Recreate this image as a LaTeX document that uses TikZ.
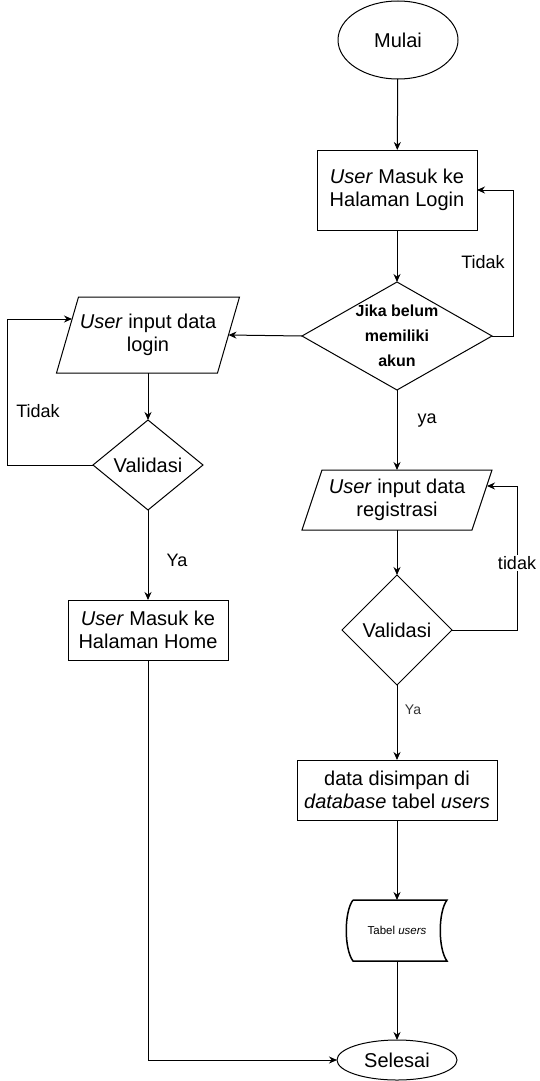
\documentclass[tikz,border=0pt]{standalone}
\usepackage{fontspec}
\setmainfont{Liberation Sans}
\usetikzlibrary{shapes.geometric,arrows.meta,calc}
\begin{document}
\begin{tikzpicture}[x=1pt,y=-1pt,
  line width=1pt,
  >={Stealth[length=8pt,width=7pt]},
  every node/.style={inner sep=0pt, outer sep=0pt},
  main/.style={font=\fontsize{20}{23}\selectfont, align=center},
  term/.style={draw, ellipse, main, minimum width=120pt, minimum height=78pt},
  proc/.style={draw, rectangle, main},
  io/.style={rectangle, main},
  dec/.style={draw, diamond},
  dtext/.style={main},
  lbl/.style={font=\fontsize{18}{20}\selectfont},
  small/.style={font=\fontsize{14}{16}\selectfont, text=black!80},
  store/.style={rectangle, font=\fontsize{11.5}{13}\selectfont}
]
\useasboundingbox (0,0) rectangle (540,1081);

% right column
\node[term] (mulai) at (398,40) {Mulai};
\node[proc, minimum width=160pt, minimum height=80pt] (lp) at (397,190) {\textit{User} Masuk ke\\Halaman Login};
\node[dec, minimum width=190pt, minimum height=108pt] (d1) at (397,336) {};
\node[dtext, font=\fontsize{16}{25}\selectfont\bfseries] (d1t) at (d1) {Jika belum\\memiliki\\akun};

\node[io, minimum width=170pt, minimum height=60pt] (reg) at (397,500) {\textit{User} input data\\registrasi};
\draw ([xshift=10pt]reg.north west) -- ([xshift=10pt]reg.north east) -- ([xshift=-10pt]reg.south east) -- ([xshift=-10pt]reg.south west) -- cycle;
\coordinate (regR) at (487,486);

\node[dec, minimum width=110pt, minimum height=110pt] (v2) at (397,630) {};
\node[dtext] (v2t) at (v2) {Validasi};
\node[proc, minimum width=200pt, minimum height=60pt] (data) at (397,790) {data disimpan di\\\textit{database} tabel \textit{users}};
\node[store, minimum width=100pt, minimum height=61pt] (tab) at (397,930.5) {Tabel \textit{users}};
\draw[line width=1.5pt] (353,900) -- (447,900) .. controls (438,912) and (438,949) .. (447,961) -- (353,961) .. controls (344,949) and (344,912) .. (353,900);
\node[term, minimum height=40pt] (sel) at (397,1060) {Selesai};

% left column
\node[io, minimum width=161pt, minimum height=76pt] (inl) at (148,335) {\textit{User} input data\\login};
\draw ([xshift=11pt]inl.north west) -- ([xshift=11pt]inl.north east) -- ([xshift=-11pt]inl.south east) -- ([xshift=-11pt]inl.south west) -- cycle;
\coordinate (inlL) at (72,319);
\node[dec, minimum width=110pt, minimum height=90pt] (v1) at (148,465) {};
\node[dtext] (v1t) at (v1) {Validasi};
\node[proc, minimum width=160pt, minimum height=60pt] (home) at (148,630) {\textit{User} Masuk ke\\Halaman Home};

% connectors
\draw[->] (mulai) -- (lp);
\draw[->] (lp) -- (d1);
\draw[->] (d1.east) -- ++(21,0) |- (lp.east);
\node[lbl] (l1) at (483,262) {Tidak};
\draw[->] (d1.west) -- (inl.east);
\draw[->] (inl) -- (v1);
\draw[->] (v1.west) -- ++(-86,0) |- (inlL);
\node[lbl] (l2) at (38,411) {Tidak};
\draw[->] (v1) -- (home);
\node[lbl] (l3) at (177,560) {Ya};
\draw[->] (home.south) |- (sel.west);
\draw[->] (d1) -- (reg);
\node[lbl] (l4) at (427,421) {ya};
\draw[->] (reg) -- (v2);
\draw[->] (v2.east) -- ++(65,0) |- (regR);
\node[lbl, fill=white, inner sep=1pt] (l5) at (517,563) {tidak};
\draw[->] (v2) -- (data);
\node[small] (l6) at (413,710) {Ya};
\draw[->] (data) -- (tab);
\draw[->] (tab) -- (sel);
\end{tikzpicture}
\end{document}
